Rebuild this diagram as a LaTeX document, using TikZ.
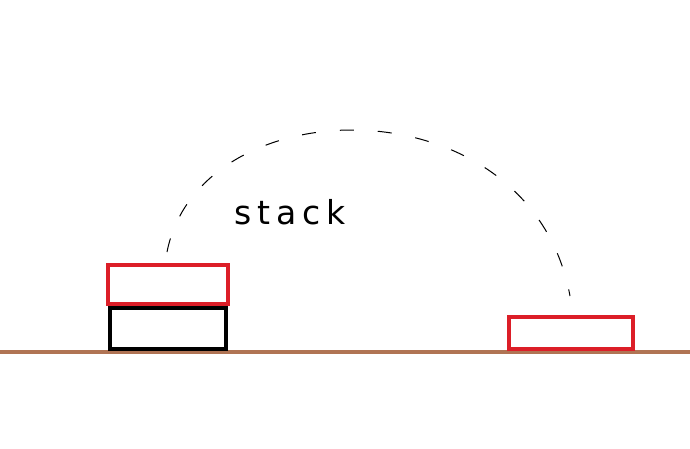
\documentclass[tikz,border=0pt]{standalone}
\usepackage{fontspec}
\setmainfont{DejaVu Sans}
\begin{document}
\begin{tikzpicture}[x=1pt,y=-1pt,
  redbox/.style={draw={rgb,255:red,220;green,30;blue,40},line width=3.5pt},
  blackbox/.style={draw=black,line width=3.5pt},
  traj/.style={line width=1pt,dash pattern=on 14pt off 24pt}]
\useasboundingbox (0,0) rectangle (690,448);
\fill[white] (0,0) rectangle (690,448);
\draw[line width=4pt,draw={rgb,255:red,176;green,116;blue,84}] (0,352) -- (690,352);
\draw[blackbox] (110,308) rectangle (226,349);
\draw[redbox] (108,265) rectangle (228,304);
\draw[redbox] (509,317) rectangle (633,349);
\coordinate (s) at (167,252);
\coordinate (e) at (570,296);
\draw[traj] (s) .. controls (200,85) and (530,80) .. (e);
\node[font=\fontsize{33}{33}\selectfont\addfontfeature{LetterSpace=18}] (t) at (290,212) {stack};
\end{tikzpicture}
\end{document}
